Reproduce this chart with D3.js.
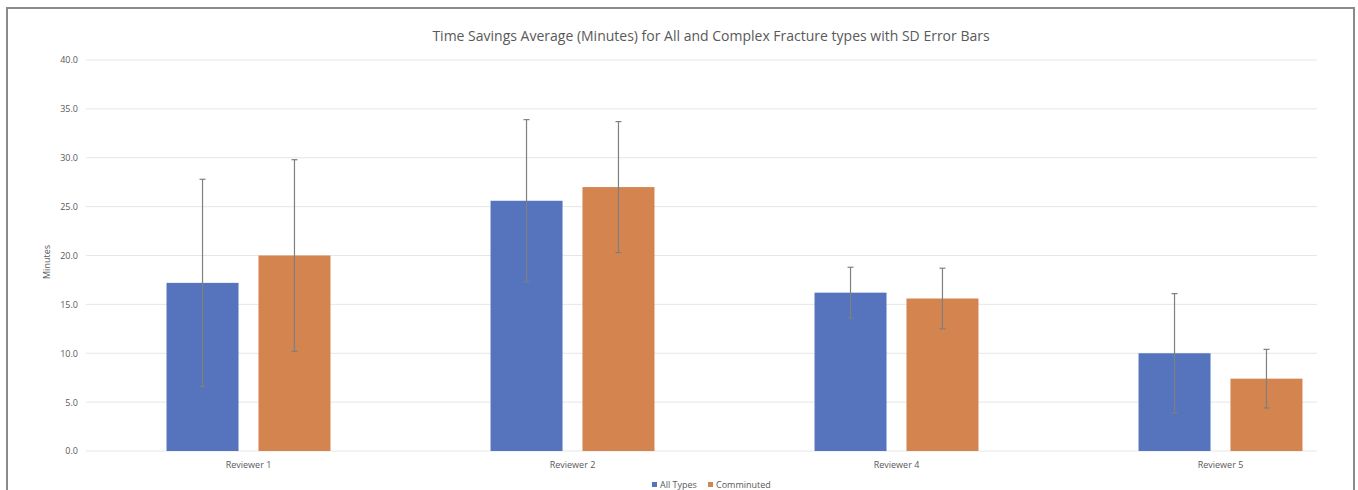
<!DOCTYPE html>
<html>
<head>
<meta charset="utf-8">
<script src="https://cdn.jsdelivr.net/npm/d3@7"></script>
<style>
  body { margin: 0; background: #fff; }
  text { font-family: "Open Sans", "Noto Sans", sans-serif; }
</style>
</head>
<body>
<svg id="chart" width="1358" height="490"></svg>
<script>
var categories = ['Reviewer 1', 'Reviewer 2', 'Reviewer 4', 'Reviewer 5'];
var series = ['All Types', 'Comminuted'];
var allTypes = [17.2, 25.6, 16.2, 10.0];
var allTypesSD = [10.6, 8.3, 2.6, 6.1];
var comminuted = [20.0, 27.0, 15.6, 7.4];
var comminutedSD = [9.8, 6.7, 3.1, 3.0];
var yTicks = [0, 5, 10, 15, 20, 25, 30, 35, 40];
var colors = ['#5574bd', '#d3844f'];

var svg = d3.select('#chart');

// outer frame
svg.append('rect').attr('x', 7).attr('y', 8).attr('width', 1347).attr('height', 500)
    .attr('fill', 'none').attr('stroke', '#8a8a8a').attr('stroke-width', 2);

var y = d3.scaleLinear().domain([0, 40]).range([451, 60]);
var x0 = d3.scaleBand().domain(categories).range([86.5, 1382.5])
    .paddingInner(0.494).paddingOuter(0.247);
var x1 = d3.scaleBand().domain(series).range([0, x0.bandwidth()])
    .paddingInner(0.217).paddingOuter(0);

// gridlines
svg.append('g').selectAll('line').data(yTicks).enter().append('line')
    .attr('x1', 86).attr('x2', 1317)
    .attr('y1', function(d){ return y(d); }).attr('y2', function(d){ return y(d); })
    .attr('stroke', '#e6e6e6').attr('stroke-width', 1);

// y axis labels
var yAxis = d3.axisLeft(y).tickValues(yTicks).tickSize(0).tickPadding(8)
    .tickFormat(d3.format('.1f'));
svg.append('g').attr('class', 'y_axis').attr('transform', 'translate(86,0)')
    .call(yAxis).call(g => g.select('.domain').remove());

// x axis labels
var xAxis = d3.axisBottom(x0).tickSize(0).tickPadding(11);
svg.append('g').attr('class', 'x_axis').attr('transform', 'translate(0,451)')
    .call(xAxis).call(g => g.select('.domain').remove());

svg.selectAll('.y_axis text, .x_axis text')
    .style('font-size', '9px').style('fill', '#595959')
    .style('font-family', '"Open Sans", sans-serif');

var rows = categories.map(function(c, i){
    return [
        {cat: c, s: series[0], v: allTypes[i], sd: allTypesSD[i], col: colors[0]},
        {cat: c, s: series[1], v: comminuted[i], sd: comminutedSD[i], col: colors[1]}
    ];
});
var flat = [].concat.apply([], rows);

// bars
svg.append('g').selectAll('rect').data(flat).enter().append('rect')
    .attr('x', function(d){ return x0(d.cat) + x1(d.s); })
    .attr('y', function(d){ return y(d.v); })
    .attr('width', x1.bandwidth())
    .attr('height', function(d){ return y(0) - y(d.v); })
    .attr('fill', function(d){ return d.col; });

// error bars
var eb = svg.append('g').attr('stroke', '#7f7f7f').attr('stroke-width', 1.2);
flat.forEach(function(d){
    var cx = x0(d.cat) + x1(d.s) + x1.bandwidth() / 2;
    eb.append('line').attr('x1', cx).attr('x2', cx)
        .attr('y1', y(d.v + d.sd)).attr('y2', y(d.v - d.sd));
    [d.v + d.sd, d.v - d.sd].forEach(function(e){
        eb.append('line').attr('x1', cx - 3).attr('x2', cx + 3)
            .attr('y1', y(e)).attr('y2', y(e));
    });
});

// title
svg.append('text').attr('x', 711).attr('y', 41).attr('text-anchor', 'middle')
    .style('font-size', '14px').style('fill', '#595959')
    .text('Time Savings Average (Minutes) for All and Complex Fracture types with SD Error Bars');

// y axis title
svg.append('text').attr('transform', 'translate(50,262) rotate(-90)')
    .attr('text-anchor', 'middle').style('font-size', '9px').style('fill', '#595959')
    .text('Minutes');

// legend
var legendX = [652, 708];
series.forEach(function(s, i){
    svg.append('rect').attr('x', legendX[i]).attr('y', 482).attr('width', 5).attr('height', 5)
        .attr('fill', colors[i]);
    svg.append('text').attr('x', legendX[i] + 8).attr('y', 488)
        .style('font-size', '9px').style('fill', '#595959').text(s);
});
</script>
</body>
</html>
